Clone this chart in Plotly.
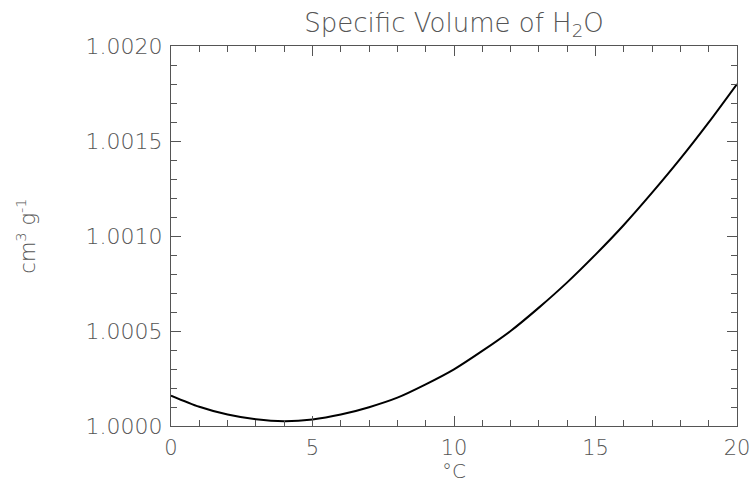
import plotly.graph_objects as go

temperature_c = list(range(0, 21))
specific_volume = [1.000160, 1.000101, 1.000060, 1.000035, 1.000025, 1.000034, 1.000060,
                   1.000099, 1.000149, 1.000219, 1.000298, 1.000395, 1.000500, 1.000623,
                   1.000756, 1.000902, 1.001058, 1.001228, 1.001407, 1.001598, 1.001800]
x_ticks = [0, 5, 10, 15, 20]
y_ticks = [1.0000, 1.0005, 1.0010, 1.0015, 1.0020]
y_tick_labels = ["1.0000", "1.0005", "1.0010", "1.0015", "1.0020"]

FONT = "DejaVu Sans"
TXT = "#555555"
AX = "#555555"

fig = go.Figure()
fig.add_trace(go.Scatter(x=temperature_c, y=specific_volume, mode="lines",
                         line=dict(color="black", width=2, shape="spline", smoothing=0.8),
                         showlegend=False))

fig.update_layout(
    width=754, height=483,
    margin=dict(l=171, r=17, t=46, b=57, autoexpand=False),
    paper_bgcolor="white", plot_bgcolor="white",
    font=dict(family=FONT, color=TXT, size=22),
    title=dict(text="Specific Volume of H<sub>2</sub>O", x=0.5, xanchor="center",
               xref="paper", yref="container", y=0.972, yanchor="top",
               font=dict(family=FONT, size=26, color=TXT, weight=300)),
)
fig.add_annotation(text="°C", xref="paper", yref="paper", x=0.5, y=-0.152,
                   xanchor="center", yanchor="bottom", showarrow=False, borderpad=0,
                   font=dict(family=FONT, size=20, color=TXT, weight=300))
fig.update_xaxes(
    range=[0, 20], tickvals=x_ticks, ticktext=[str(v) for v in x_ticks],
    ticks="inside", ticklen=10, tickcolor=AX, tickwidth=1,
    minor=dict(dtick=1, ticks="inside", ticklen=6, tickcolor=AX, tickwidth=1),
    showline=True, linecolor=AX, linewidth=1, mirror="ticks",
    showgrid=False, zeroline=False, ticklabelstandoff=3, automargin=False,
    tickfont=dict(family=FONT, size=21, color=TXT, weight=300),
)
fig.update_yaxes(
    range=[1.0, 1.002], tickvals=y_ticks, ticktext=y_tick_labels,
    ticks="inside", ticklen=10, tickcolor=AX, tickwidth=1,
    minor=dict(dtick=0.0001, ticks="inside", ticklen=6, tickcolor=AX, tickwidth=1),
    showline=True, linecolor=AX, linewidth=1, mirror="ticks",
    showgrid=False, zeroline=False, ticklabelstandoff=3, automargin=False,
    tickfont=dict(family=FONT, size=22, color=TXT, weight=300),
    title=dict(text="cm<sup>3</sup> g<sup>-1</sup>", font=dict(family=FONT, size=21, color=TXT, weight=300), standoff=44),
)
fig.write_html("out.html")
